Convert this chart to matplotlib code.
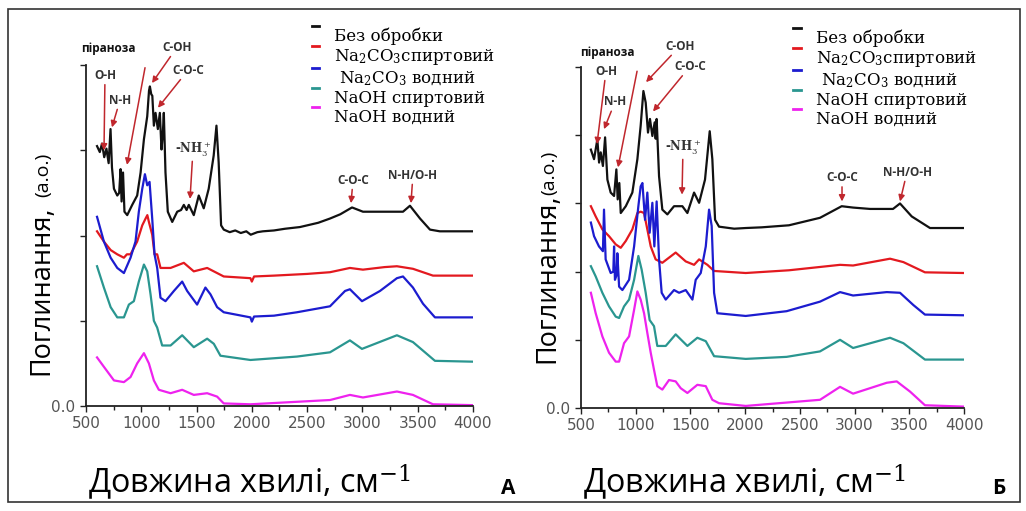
import matplotlib
matplotlib.use("Agg")
import matplotlib.pyplot as plt
from matplotlib.lines import Line2D
from matplotlib.patches import Rectangle
from matplotlib.legend_handler import HandlerLine2D

plt.rcParams["mathtext.fontset"] = "dejavuserif"

# ---- data (wavenumber, cm-1 / absorbance, a.u.) ----
# panel A
a_black_wn = [600, 625, 645, 665, 685, 705, 722, 735, 753, 783, 800, 813, 822, 835, 848, 873, 918, 963,
              994, 1024, 1054, 1070, 1078, 1090, 1100, 1114, 1129, 1150, 1168, 1183, 1195, 1204, 1219,
              1240, 1280, 1325, 1360, 1385, 1410, 1430, 1475, 1520, 1565, 1610, 1655, 1680, 1700, 1722,
              1746, 1800, 1850, 1900, 1950, 1990, 2050, 2100, 2200, 2300, 2435, 2600, 2707, 2800, 2906,
              3005, 3100, 3250, 3367, 3430, 3521, 3611, 3700, 3800, 4000]
a_black = [3.05, 2.98, 3.08, 2.92, 3.02, 2.85, 3.25, 2.80, 2.55, 2.47, 2.50, 2.78, 2.40, 2.74, 2.28, 2.24,
           2.36, 2.47, 2.74, 3.13, 3.40, 3.70, 3.75, 3.66, 3.64, 3.29, 3.44, 3.25, 3.44, 3.01, 3.20, 3.44,
           2.74, 2.28, 2.16, 2.28, 2.30, 2.36, 2.30, 2.36, 2.24, 2.47, 2.32, 2.55, 2.94, 3.29, 2.86, 2.12,
           2.07, 2.04, 2.06, 2.03, 2.05, 2.01, 2.04, 2.05, 2.06, 2.08, 2.10, 2.15, 2.20, 2.25, 2.33,
           2.28, 2.28, 2.28, 2.28, 2.35, 2.20, 2.07, 2.05, 2.05, 2.05]

a_red_wn = [600, 662, 723, 783, 843, 870, 903, 963, 1009, 1039, 1055, 1069, 1099, 1120, 1144, 1174, 1265,
            1385, 1475, 1596, 1686, 1746, 1987, 2000, 2020, 2200, 2500, 2707, 2887, 3005, 3200, 3312,
            3457, 3638, 4000]
a_red = [2.05, 1.93, 1.83, 1.78, 1.74, 1.78, 1.78, 1.93, 2.12, 2.20, 2.24, 2.16, 2.01, 1.78, 1.78, 1.62,
         1.62, 1.68, 1.58, 1.62, 1.56, 1.52, 1.50, 1.46, 1.52, 1.53, 1.55, 1.57, 1.62, 1.60, 1.63, 1.64,
         1.61, 1.53, 1.53]

a_blue_wn = [600, 662, 723, 783, 843, 903, 948, 978, 1009, 1033, 1054, 1075, 1099, 1120, 1144, 1174,
             1219, 1295, 1370, 1415, 1505, 1580, 1626, 1686, 1746, 1987, 2000, 2020, 2200, 2408, 2707,
             2843, 2887, 2996, 3159, 3312, 3367, 3457, 3548, 3656, 4000]
a_blue = [2.22, 1.93, 1.74, 1.62, 1.56, 1.74, 1.93, 2.28, 2.55, 2.72, 2.59, 2.63, 2.20, 1.78, 1.62, 1.27,
          1.23, 1.35, 1.46, 1.35, 1.19, 1.39, 1.31, 1.16, 1.10, 1.04, 0.99, 1.05, 1.06, 1.10, 1.17,
          1.35, 1.37, 1.23, 1.35, 1.50, 1.52, 1.39, 1.20, 1.04, 1.04]

a_teal_wn = [600, 662, 723, 783, 843, 888, 933, 978, 1024, 1054, 1084, 1114, 1144, 1189, 1265, 1370,
             1475, 1596, 1656, 1716, 1987, 2408, 2707, 2887, 2996, 3312, 3457, 3656, 4000]
a_teal = [1.64, 1.39, 1.16, 1.04, 1.04, 1.19, 1.23, 1.46, 1.66, 1.58, 1.31, 1.00, 0.92, 0.71, 0.71, 0.83,
          0.69, 0.79, 0.73, 0.59, 0.54, 0.58, 0.63, 0.77, 0.67, 0.83, 0.75, 0.53, 0.52]

a_pink_wn = [600, 662, 753, 843, 903, 963, 1024, 1069, 1114, 1159, 1265, 1370, 1475, 1596, 1686, 1746,
             1987, 2707, 2887, 3005, 3312, 3457, 3638, 4000]
a_pink = [0.57, 0.46, 0.30, 0.28, 0.34, 0.50, 0.62, 0.50, 0.30, 0.19, 0.15, 0.19, 0.13, 0.15, 0.11, 0.03,
          0.02, 0.07, 0.13, 0.10, 0.17, 0.13, 0.02, 0.01]

# panel B
b_black_wn = [590, 619, 649, 665, 680, 700, 720, 741, 771, 802, 823, 835, 850, 863, 909, 969, 1015, 1045,
              1070, 1091, 1112, 1130, 1152, 1173, 1182, 1191, 1213, 1243, 1289, 1350, 1426, 1472, 1533,
              1579, 1633, 1676, 1700, 1725, 1761, 1900, 2005, 2150, 2400, 2684, 2882, 2986, 3141, 3351,
              3415, 3522, 3689, 4000]
b_black = [3.79, 3.65, 3.94, 3.60, 3.75, 3.55, 3.97, 3.35, 3.16, 3.11, 3.50, 3.06, 3.30, 2.86, 2.96, 3.16,
           3.65, 4.14, 4.65, 4.48, 4.04, 4.24, 3.99, 4.19, 3.95, 4.24, 3.40, 2.91, 2.84, 2.96, 2.96, 2.86,
           3.16, 3.01, 3.35, 4.06, 3.65, 2.76, 2.66, 2.63, 2.64, 2.65, 2.68, 2.79, 2.96, 2.94, 2.92,
           2.92, 3.00, 2.81, 2.64, 2.64]

b_red_wn = [590, 634, 695, 756, 817, 863, 909, 969, 1015, 1045, 1076, 1106, 1137, 1182, 1243, 1365, 1457,
            1533, 1579, 1655, 1716, 2005, 2400, 2867, 2986, 3324, 3446, 3643, 4000]
b_red = [2.96, 2.81, 2.62, 2.52, 2.40, 2.35, 2.45, 2.62, 2.86, 2.88, 2.86, 2.62, 2.37, 2.18, 2.13, 2.28,
         2.15, 2.10, 2.18, 2.10, 2.01, 1.98, 2.02, 2.10, 2.09, 2.19, 2.14, 1.99, 1.98]

b_blue_wn = [590, 619, 664, 700, 710, 725, 771, 795, 802, 810, 825, 832, 848, 878, 939, 985, 1024, 1045,
             1061, 1085, 1106, 1127, 1152, 1170, 1191, 1213, 1237, 1274, 1350, 1396, 1457, 1518, 1548,
             1594, 1640, 1670, 1694, 1716, 1746, 2005, 2379, 2684, 2867, 2986, 3294, 3415, 3537, 3643,
             4000]
b_blue = [2.72, 2.52, 2.37, 2.30, 2.91, 2.18, 1.98, 2.00, 2.37, 1.88, 1.95, 2.27, 1.78, 1.73, 1.88, 2.37,
          2.96, 3.25, 3.30, 2.76, 3.16, 2.57, 3.01, 2.37, 3.03, 2.18, 1.69, 1.59, 1.73, 1.69, 1.73, 1.59,
          1.88, 1.98, 2.37, 2.91, 2.67, 1.69, 1.39, 1.35, 1.42, 1.56, 1.70, 1.65, 1.70, 1.69, 1.51,
          1.37, 1.36]

b_teal_wn = [590, 634, 695, 756, 817, 848, 893, 939, 985, 1024, 1054, 1091, 1127, 1167, 1197, 1274, 1365,
             1472, 1563, 1640, 1716, 2005, 2379, 2684, 2867, 2986, 3324, 3446, 3643, 4000]
b_teal = [2.08, 1.93, 1.69, 1.49, 1.34, 1.32, 1.49, 1.59, 1.88, 2.23, 2.03, 1.69, 1.29, 1.20, 0.91, 0.91,
          1.08, 0.91, 1.03, 0.98, 0.76, 0.72, 0.75, 0.83, 1.00, 0.88, 1.03, 0.95, 0.71, 0.71]

b_pink_wn = [590, 634, 695, 756, 817, 848, 893, 939, 985, 1015, 1045, 1076, 1106, 1137, 1167, 1197, 1243,
             1304, 1365, 1411, 1472, 1563, 1640, 1700, 1761, 2005, 2684, 2867, 2986, 3294, 3385, 3507,
             3643, 4000]
b_pink = [1.69, 1.39, 1.05, 0.81, 0.68, 0.68, 0.95, 1.05, 1.44, 1.71, 1.59, 1.39, 1.10, 0.81, 0.56, 0.32,
          0.27, 0.41, 0.39, 0.29, 0.22, 0.34, 0.32, 0.12, 0.07, 0.03, 0.12, 0.31, 0.21, 0.37, 0.39, 0.24,
          0.04, 0.02]

labels = ["Без обробки", r"Na$_2$CO$_3$спиртовий", r" Na$_2$CO$_3$ водний", "NaOH спиртовий", "NaOH водний"]
colors = ["#111111", "#e3191f", "#1c1ccf", "#2a9690", "#ee22ee"]

# band labels: text, arrow tip (wn, a.u.), label centre (wn, a.u.)
notes_a = [("O-H", (663, 3.0), (672, 3.88)),
           ("N-H", (735, 3.27), (808, 3.59)),
           ("", (871, 2.83), (1034, 3.97)),
           ("C-OH", (1097, 3.79), (1323, 4.21)),
           ("C-O-C", (1151, 3.50), (1422, 3.94)),
           (r"-NH$_3^+$", (1441, 2.43), (1468, 3.01)),
           ("C-O-C", (2897, 2.38), (2915, 2.65)),
           ("N-H/O-H", (3439, 2.38), (3457, 2.71))]
notes_b = [("O-H", (646, 3.87), (728, 4.94)),
           ("N-H", (710, 4.09), (811, 4.49)),
           ("", (838, 3.53), (1012, 4.94)),
           ("C-OH", (1094, 4.78), (1405, 5.31)),
           ("C-O-C", (1158, 4.35), (1496, 5.01)),
           (r"-NH$_3^+$", (1423, 3.13), (1432, 3.82)),
           ("C-O-C", (2885, 3.03), (2885, 3.38)),
           ("N-H/O-H", (3415, 3.03), (3479, 3.46))]


class RaisedLine(HandlerLine2D):
    # legend dashes sit a little above their text in the original
    def create_artists(self, legend, orig_handle, xdescent, ydescent, width, height, fontsize, trans):
        return super().create_artists(legend, orig_handle, xdescent, ydescent - 1.1 * fontsize,
                                      width, height, fontsize, trans)


fig = plt.figure(figsize=(10.26, 5.11), dpi=100)
fig.add_artist(Rectangle((8 / 1026, 9 / 511), 1012 / 1026, 493 / 511, transform=fig.transFigure,
                         fill=False, lw=1.2, edgecolor="#333333"))

ax_a = fig.add_axes([0.0838, 0.2055, 0.3772, 0.667])
ax_b = fig.add_axes([0.5663, 0.2016, 0.3733, 0.667])

panels = [
    (ax_a, [(a_black_wn, a_black), (a_red_wn, a_red), (a_blue_wn, a_blue), (a_teal_wn, a_teal),
            (a_pink_wn, a_pink)], notes_a, 4.0, (0.562, 1.135), (699, 4.19), 0.0475, 0.266, 0.614, "А"),
    (ax_b, [(b_black_wn, b_black), (b_red_wn, b_red), (b_blue_wn, b_blue), (b_teal_wn, b_teal),
            (b_pink_wn, b_pink)], notes_b, 5.0, (0.532, 1.135), (738, 5.22), 0.540, 0.29, 0.618, "Б"),
]

arrow_col = "#c0272d"
sans = ["Open Sans", "DejaVu Sans"]
for ax, spectra, notes, ytop, leg_pos, pyr_pos, lab_x, lab_y, au_y, letter in panels:
    for (wn, ab), c in zip(spectra, colors):
        ax.plot(wn, ab, color=c, lw=1.6)
    ax.set_xlim(500, 4000)
    ax.set_ylim(0, ytop)
    ax.set_xticks(range(500, 4001, 500))
    ax.set_xticks(range(750, 4000, 500), minor=True)
    ax.set_yticks(range(0, int(ytop) + 1))
    ax.set_yticklabels(["0.0"] + [""] * int(ytop))
    for s in ("top", "right"):
        ax.spines[s].set_visible(False)
    for s in ("left", "bottom"):
        ax.spines[s].set_color("#222222")
        ax.spines[s].set_linewidth(1.3)
    ax.tick_params(axis="both", which="major", direction="out", length=4, width=1, colors="#222222",
                   labelcolor="#555555", labelsize=11)
    ax.tick_params(axis="x", which="minor", direction="out", length=3, width=1, colors="#222222")
    for lab in ax.get_xticklabels() + ax.get_yticklabels():
        lab.set_family(["Liberation Sans Narrow", "DejaVu Sans"])

    for txt, tip, pos in notes:
        fam = ["DejaVu Serif"] if "NH$" in txt else sans
        ax.annotate(txt, xy=tip, xytext=pos, ha="center", va="center",
                    fontsize=8.5, fontweight="bold", color="#333333", family=fam,
                    annotation_clip=False,
                    arrowprops=dict(arrowstyle="-|>", color=arrow_col, lw=1.1, mutation_scale=9,
                                    shrinkA=0, shrinkB=0))
    ax.text(pyr_pos[0], pyr_pos[1], "піраноза", ha="center", va="center", fontsize=8.5,
            fontweight="bold", color="#111111", family=sans, clip_on=False)

    handles = [Line2D([], [], color=c, lw=2) for c in colors]
    ax.legend(handles, labels, loc="upper left", bbox_to_anchor=leg_pos, frameon=False,
              handlelength=0.45, handletextpad=0.9, labelspacing=0.13, borderpad=0,
              handler_map={Line2D: RaisedLine()},
              prop={"family": "DejaVu Serif", "size": 12})

    fig.text(lab_x, lab_y, "Поглинання,", rotation=90, rotation_mode="anchor", ha="left",
             va="baseline", fontsize=19.5, family=sans)
    fig.text(lab_x, au_y, "(а.о.)", rotation=90, rotation_mode="anchor", ha="left",
             va="baseline", fontsize=14, family=sans)
    box = ax.get_position()
    fig.text(box.x0 + 0.002, 0.036, r"Довжина хвилі, см$^{-1}$", ha="left", va="baseline",
             fontsize=23.3, family=sans)
    fig.text(box.x1 + 0.034, 0.033, letter, ha="center", va="baseline", fontsize=15,
             fontweight="bold", family=sans)

fig.savefig("out.png", dpi=100)
